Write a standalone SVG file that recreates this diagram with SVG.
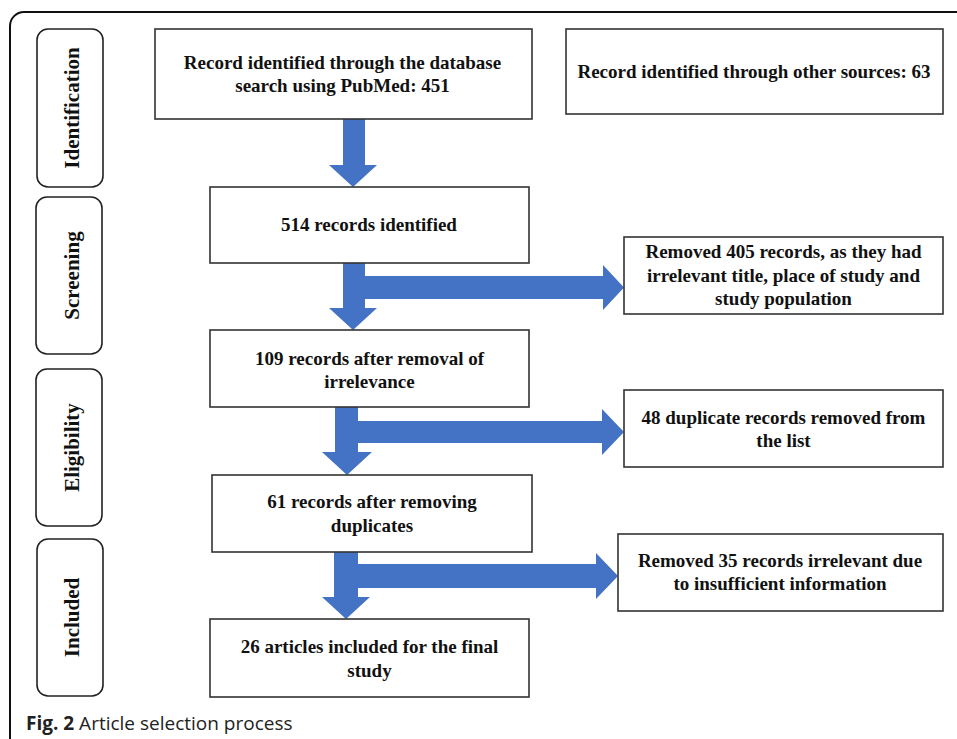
<svg xmlns="http://www.w3.org/2000/svg" width="957" height="739" viewBox="0 0 957 739">
<style>
.frame{fill:none;stroke:#111;stroke-width:2}
.stage{fill:#fff;stroke:#222;stroke-width:1.6}
.box{fill:#fff;stroke:#333;stroke-width:1.6}
.t{font-family:"Liberation Serif","Times New Roman",serif;font-weight:bold;font-size:19px;fill:#111;text-anchor:middle}
.st{font-family:"Liberation Serif","Times New Roman",serif;font-weight:bold;font-size:21px;fill:#111;text-anchor:middle}
.arrow{fill:#4472C4;stroke:none}
.cap{font-family:"Open Sans","Noto Sans",sans-serif;font-size:19px;fill:#222}
</style>
<rect x="0" y="0" width="957" height="739" fill="#fff"/>
<path class="frame" d="M10,739 V26 A14,14 0 0 1 24,12 H957"/>

<g id="stage-identification">
<rect class="stage" x="37" y="29" width="66" height="158" rx="11"/>
<text class="st" transform="translate(79,108) rotate(-90)">Identification</text>
</g>
<g id="stage-screening">
<rect class="stage" x="36" y="197" width="66" height="157" rx="11"/>
<text class="st" transform="translate(79,275.5) rotate(-90)">Screening</text>
</g>
<g id="stage-eligibility">
<rect class="stage" x="36" y="369" width="66" height="157" rx="11"/>
<text class="st" transform="translate(79,447.5) rotate(-90)">Eligibility</text>
</g>
<g id="stage-included">
<rect class="stage" x="37" y="539" width="66" height="157" rx="11"/>
<text class="st" transform="translate(79,617.5) rotate(-90)">Included</text>
</g>

<g id="connectors">
<polygon class="arrow" points="343,119 365,119 365,165 377,165 353,187 329,165 343,165"/>
<polygon class="arrow" points="343,263 365,263 365,308 377,308 353,330 329,308 343,308"/>
<polygon class="arrow" points="364,276 603,276 603,265 624,287.5 603,310 603,299 364,299"/>
<polygon class="arrow" points="335,407 358,407 358,452 372,452 347,475 322,452 335,452"/>
<polygon class="arrow" points="357,421 602,421 602,409 624,432 602,455 602,443 357,443"/>
<polygon class="arrow" points="334,552 358,552 358,597 370,597 346,619 322,597 334,597"/>
<polygon class="arrow" points="357,564 596,564 596,553 618,576 596,599 596,588 357,588"/>
</g>

<g id="n-pubmed">
<rect class="box" x="155" y="29" width="377" height="90"/>
<text class="t" x="342.5" y="69">Record identified through the database</text>
<text class="t" x="342.5" y="92">search using PubMed: 451</text>
</g>
<g id="n-other">
<rect class="box" x="566" y="29" width="377" height="85"/>
<text class="t" x="754" y="78">Record identified through other sources: 63</text>
</g>
<g id="n-514">
<rect class="box" x="210" y="187" width="319" height="76"/>
<text class="t" x="369" y="231">514 records identified</text>
</g>
<g id="n-removed405">
<rect class="box" x="624" y="237" width="319" height="77"/>
<text class="t" x="783.5" y="258">Removed 405 records, as they had</text>
<text class="t" x="783.5" y="282">irrelevant title, place of study and</text>
<text class="t" x="783.5" y="305">study population</text>
</g>
<g id="n-109">
<rect class="box" x="210" y="330" width="319" height="77"/>
<text class="t" x="369.5" y="365">109 records after removal of</text>
<text class="t" x="369.5" y="388">irrelevance</text>
</g>
<g id="n-48">
<rect class="box" x="624" y="390" width="319" height="77"/>
<text class="t" x="783.5" y="424">48 duplicate records removed from</text>
<text class="t" x="783.5" y="447">the list</text>
</g>
<g id="n-61">
<rect class="box" x="212" y="475" width="320" height="77"/>
<text class="t" x="372" y="508">61 records after removing</text>
<text class="t" x="372" y="532">duplicates</text>
</g>
<g id="n-removed35">
<rect class="box" x="618" y="534" width="325" height="77"/>
<text class="t" x="780" y="567">Removed 35 records irrelevant due</text>
<text class="t" x="780" y="590">to insufficient information</text>
</g>
<g id="n-26">
<rect class="box" x="210" y="619" width="319" height="78"/>
<text class="t" x="369.5" y="653">26 articles included for the final</text>
<text class="t" x="369.5" y="677">study</text>
</g>

<text class="cap" x="26" y="730"><tspan font-weight="bold">Fig. 2</tspan> Article selection process</text>
</svg>
